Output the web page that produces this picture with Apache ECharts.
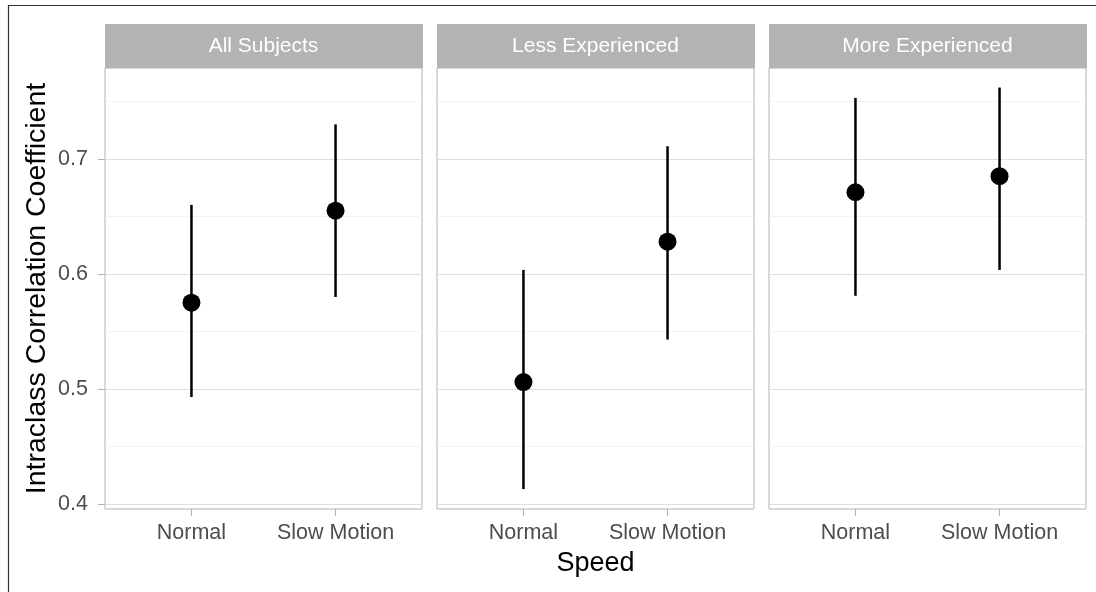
<!DOCTYPE html>
<html>
<head>
<meta charset="utf-8">
<script src="https://cdn.jsdelivr.net/npm/echarts@6/dist/echarts.min.js"></script>
<style>
html,body{margin:0;padding:0;background:#fff;}
#c{width:1096px;height:592px;}
</style>
</head>
<body>
<div id="c"></div>
<script>
var panels = ['All Subjects', 'Less Experienced', 'More Experienced'];
var categories = ['Normal', 'Slow Motion'];
var yTicks = [0.4, 0.5, 0.6, 0.7];
var yMinor = [0.45, 0.55, 0.65, 0.75];

var iccAll = [0.575, 0.655];
var loAll = [0.493, 0.580];
var hiAll = [0.660, 0.730];

var iccLess = [0.506, 0.628];
var loLess = [0.413, 0.543];
var hiLess = [0.6035, 0.711];

var iccMore = [0.671, 0.685];
var loMore = [0.581, 0.6035];
var hiMore = [0.753, 0.762];

var icc = [iccAll, iccLess, iccMore];
var lo = [loAll, loLess, loMore];
var hi = [hiAll, hiLess, hiMore];

var FONT = '"Liberation Sans", Arial, sans-serif';
var lefts = [105, 437, 769];
var W = 317, TOP = 68, BOTTOM = 509;
var YMIN = 0.3957, YMAX = 0.779;

var grids = [], xAxes = [], yAxes = [], series = [], graphics = [];

panels.forEach(function (p, i) {
  grids.push({left: lefts[i], width: W, top: TOP, height: BOTTOM - TOP,
    show: true, borderColor: '#b3b3b3', borderWidth: 1, backgroundColor: 'transparent', containLabel: false});
  xAxes.push({
    type: 'value', gridIndex: i, min: 0.4, max: 2.6,
    axisLine: {show: false},
    splitLine: {show: false},
    axisTick: {show: true, customValues: [1, 2], length: 7, lineStyle: {color: '#b3b3b3', width: 1}},
    axisLabel: {show: true, customValues: [1, 2], margin: 13, fontSize: 21.5, color: '#4d4d4d', fontFamily: FONT,
      formatter: function (v) { return categories[Math.round(v) - 1] || ''; }},
    name: i === 1 ? 'Speed' : '', nameLocation: 'middle', nameGap: 41,
    nameTextStyle: {fontSize: 27, color: '#000', fontFamily: FONT}
  });
  yAxes.push({
    type: 'value', gridIndex: i, min: YMIN, max: YMAX,
    axisLine: {show: false},
    splitLine: {show: false},
    axisTick: {show: i === 0, customValues: yTicks, length: 7, lineStyle: {color: '#b3b3b3', width: 1}},
    axisLabel: {show: i === 0, customValues: yTicks, margin: 17, fontSize: 21.5, color: '#4d4d4d', fontFamily: FONT,
      formatter: function (v) { return v.toFixed(1); }},
    name: i === 0 ? 'Intraclass Correlation Coefficient' : '', nameLocation: 'middle', nameGap: 53,
    nameTextStyle: {fontSize: 28.5, color: '#000', fontFamily: FONT}
  });
  // gridlines
  series.push({
    type: 'line', xAxisIndex: i, yAxisIndex: i, data: [], silent: true, z: 1,
    markLine: {silent: true, z: 1, symbol: 'none', label: {show: false}, animation: false,
      data: yTicks.map(function (v) { return {yAxis: v, lineStyle: {color: '#dedede', width: 1, type: 'solid'}}; })
        .concat(yMinor.map(function (v) { return {yAxis: v, lineStyle: {color: '#eeeeee', width: 0.7, type: 'solid'}}; }))}
  });
  // error bars
  var ebData = categories.map(function (c, k) { return [k + 1, lo[i][k], hi[i][k]]; });
  series.push({
    type: 'custom', xAxisIndex: i, yAxisIndex: i, z: 6, data: ebData,
    renderItem: function (params, api) {
      var a = api.coord([api.value(0), api.value(1)]);
      var b = api.coord([api.value(0), api.value(2)]);
      return {type: 'line', shape: {x1: a[0], y1: a[1], x2: b[0], y2: b[1]},
        style: {stroke: '#000', lineWidth: 2.5}};
    }
  });
  // points
  series.push({
    type: 'scatter', xAxisIndex: i, yAxisIndex: i, z: 7, symbol: 'circle', symbolSize: 18,
    itemStyle: {color: '#000', opacity: 1},
    emphasis: {disabled: true},
    data: categories.map(function (c, k) { return [k + 1, icc[i][k]]; })
  });
  // strip
  graphics.push({type: 'rect', left: lefts[i], top: 24, shape: {width: W + 1, height: 44},
    style: {fill: '#b3b3b3'}, z: 10});
  graphics.push({type: 'text', x: lefts[i] + W / 2, y: 46, z: 11,
    style: {text: p, fill: '#fff', fontSize: 21, fontFamily: FONT, align: 'center', verticalAlign: 'middle'}});
});

// outer border (top and left)
graphics.push({type: 'line', shape: {x1: 8, y1: 5.5, x2: 1096, y2: 5.5}, style: {stroke: '#333', lineWidth: 1.2}});
graphics.push({type: 'line', shape: {x1: 8.5, y1: 5, x2: 8.5, y2: 592}, style: {stroke: '#333', lineWidth: 1.2}});

var chart = echarts.init(document.getElementById('c'), null, {renderer: 'canvas'});
chart.setOption({
  animation: false,
  backgroundColor: '#fff',
  grid: grids, xAxis: xAxes, yAxis: yAxes, series: series,
  graphic: graphics
});
</script>
</body>
</html>
